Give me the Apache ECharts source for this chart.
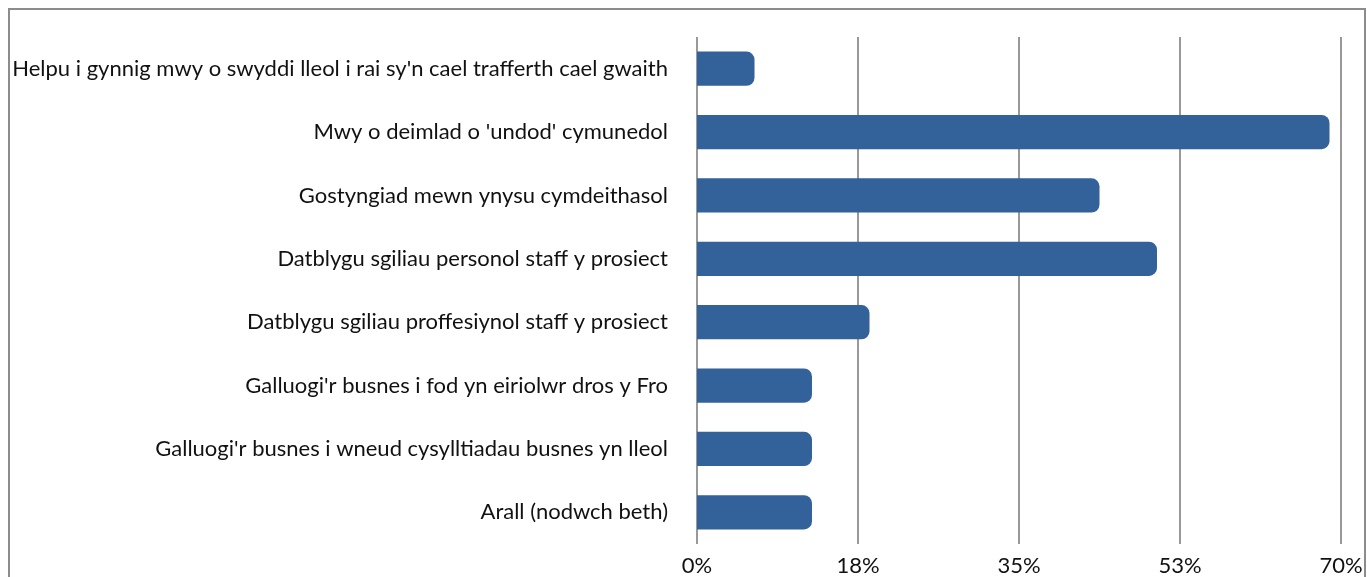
<!DOCTYPE html>
<html>
<head>
<meta charset="utf-8">
<script src="https://cdn.jsdelivr.net/npm/echarts@6/dist/echarts.min.js"></script>
<style>
html,body{margin:0;padding:0;background:#fff;}
#chart{width:1367px;height:577px;}
</style>
</head>
<body>
<div id="chart"></div>
<script>
const categories = [
  "Helpu i gynnig mwy o swyddi lleol i rai sy'n cael trafferth cael gwaith",
  "Mwy o deimlad o 'undod' cymunedol",
  "Gostyngiad mewn ynysu cymdeithasol",
  "Datblygu sgiliau personol staff y prosiect",
  "Datblygu sgiliau proffesiynol staff y prosiect",
  "Galluogi'r busnes i fod yn eiriolwr dros y Fro",
  "Galluogi'r busnes i wneud cysylltiadau busnes yn lleol",
  "Arall (nodwch beth)"
];
const values = [6.25, 68.75, 43.75, 50, 18.75, 12.5, 12.5, 12.5];
const xTickLabels = ['0%', '18%', '35%', '53%', '70%'];

const chart = echarts.init(document.getElementById('chart'), null, {renderer: 'canvas'});
chart.setOption({
  animation: false,
  backgroundColor: '#fff',
  graphic: [{
    type: 'rect',
    shape: {x: 9, y: 9, width: 1356, height: 620},
    style: {fill: 'none', stroke: '#8c8c8c', lineWidth: 2},
    silent: true
  }],
  grid: {left: 697, right: 26, top: 37, bottom: 32, containLabel: false},
  xAxis: {
    type: 'value',
    min: 0, max: 70, interval: 17.5,
    axisLine: {show: false},
    axisTick: {show: false},
    splitLine: {show: true, lineStyle: {color: '#999', width: 2}},
    axisLabel: {
      fontFamily: 'Lato', fontSize: 22, color: '#111', margin: 11,
      formatter: (v, i) => xTickLabels[i]
    }
  },
  yAxis: {
    type: 'category',
    data: categories,
    inverse: true,
    axisLine: {show: false},
    axisTick: {show: false},
    axisLabel: {fontFamily: 'Lato', fontSize: 22, color: '#111', margin: 29}
  },
  series: [{
    type: 'bar',
    data: values,
    barWidth: '54%',
    itemStyle: {color: '#336199', borderRadius: [0, 8, 8, 0]}
  }]
});
</script>
</body>
</html>
